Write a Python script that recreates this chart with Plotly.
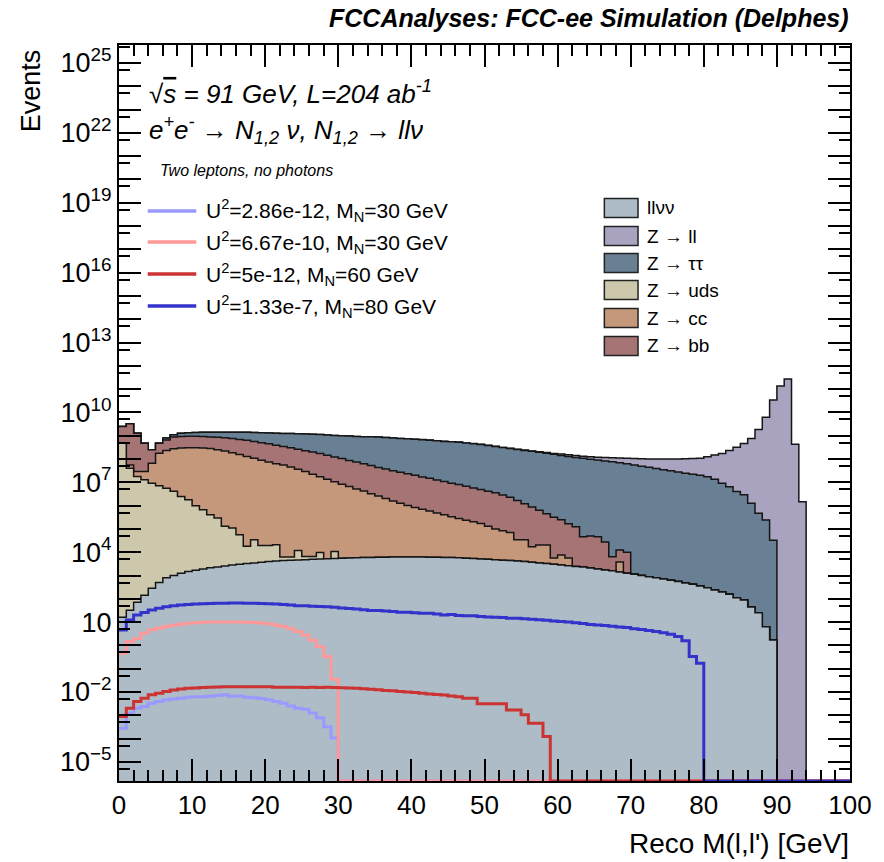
import numpy as np
import plotly.graph_objects as go

# 1 GeV bins of the reconstructed di-lepton mass, 0-100 GeV
edges = np.arange(0, 101, 1)

# ---------------- background processes: events per bin ----------------
llvv = [16, 32, 71, 141, 282, 501, 794, 1000, 1259, 1479,
        1698, 1905, 2138, 2344, 2570, 2818, 3020, 3236, 3467, 3715,
        3981, 4169, 4365, 4571, 4677, 4786, 5012, 5129, 5248, 5370,
        5495, 5623, 5754, 5888, 5888, 6026, 6026, 6166, 6166, 6166,
        6166, 6166, 6026, 6026, 5888, 5888, 5754, 5495, 5370, 5129,
        5012, 4786, 4571, 4365, 4169, 3981, 3715, 3467, 3236, 3020,
        2818, 2630, 2455, 2291, 2089, 1905, 1738, 1585, 1413, 1259,
        1122, 1000, 891, 794, 708, 631, 550, 479, 417, 355,
        295, 240, 195, 158, 112, 89, 45, 25, 6.3, 1.7,
        0, 0, 0, 0, 0, 0, 0, 0, 0, 0]

z_uds = [4.79e8, 3.98e7, 1.78e7, 1.29e7, 9.1e6, 7.1e6, 5.6e6, 4.1e6, 2.45e6, 1.78e6,
         9.8e5, 6.6e5, 4.0e5, 2.9e5, 1.26e5, 1.07e5, 5.3e4, 1.46e4, 3.04e4, 1.58e4,
         1.55e4, 1.67e4, 1800, 1600, 7070, 1820, 1600, 4640, 0, 5350] + [0] * 70

z_cc = [0, 1.6e7, 1.1e7, 1.6e7, 5.7e7, 1.71e8, 2.28e8, 2.71e8, 2.95e8, 3.02e8,
        3.02e8, 2.95e8, 2.82e8, 2.51e8, 2.19e8, 1.86e8, 1.58e8, 1.29e8, 1.07e8, 8.9e7,
        7.4e7, 6.3e7, 5.6e7, 4.5e7, 3.6e7, 2.9e7, 2.24e7, 1.74e7, 1.35e7, 1.05e7,
        8.3e6, 6.6e6, 5.2e6, 4.2e6, 3.2e6, 2.6e6, 2.0e6, 1.58e6, 1.26e6, 1.0e6,
        8.3e5, 6.9e5, 5.8e5, 4.8e5, 4.0e5, 3.3e5, 2.75e5, 2.3e5, 2.0e5, 1.66e5,
        1.26e5, 9.5e4, 7.9e4, 6.6e4, 3.0e4, 3.0e4, 1.33e4, 1.69e4, 1.72e4, 2600,
        4770, 2990, 0, 0, 0, 0, 0, 0, 2390, 0] + [0] * 30

z_bb = [2.03e9, 3.18e9, 1.26e9, 4.5e8, 1.85e8, 3.0e8, 4.27e8, 5.96e8, 6.38e8, 6.53e8,
        6.53e8, 6.38e8, 6.09e8, 6.0e8, 5.94e8, 5.73e8, 5.34e8, 5.02e8, 4.55e8, 4.12e8,
        3.73e8, 3.26e8, 2.91e8, 2.57e8, 2.27e8, 2.0e8, 1.78e8, 1.53e8, 1.32e8, 1.13e8,
        9.7e7, 8.05e7, 6.9e7, 5.9e7, 4.9e7, 4.1e7, 3.5e7, 3.0e7, 2.56e7, 2.24e7,
        1.92e7, 1.63e7, 1.42e7, 1.21e7, 1.03e7, 8.8e6, 7.7e6, 6.5e6, 5.55e6, 4.73e6,
        4.04e6, 3.45e6, 2.74e6, 2.22e6, 1.63e6, 1.17e6, 8.5e5, 6.1e5, 4.27e5, 3.1e5,
        2.37e5, 1.6e5, 1.21e5, 4.34e4, 4.8e4, 4.38e4, 2.58e4, 4725, 8790, 8740] + [0] * 30

z_tautau = [0, 0, 0, 0, 0, 0, 1.33e8, 2.25e8, 3.55e8, 3.94e8,
            4.25e8, 4.8e8, 5.2e8, 5.6e8, 6.0e8, 6.5e8, 7.2e8, 7.8e8, 8.2e8, 8.5e8,
            8.7e8, 9.0e8, 9.1e8, 9.3e8, 9.4e8, 9.5e8, 9.5e8, 9.5e8, 9.3e8, 9.0e8,
            8.95e8, 8.9e8, 8.6e8, 8.5e8, 8.4e8, 8.3e8, 7.95e8, 7.6e8, 7.3e8, 7.2e8,
            6.9e8, 6.6e8, 6.3e8, 5.9e8, 5.6e8, 5.4e8, 5.2e8, 4.8e8, 4.5e8, 4.2e8,
            3.8e8, 3.4e8, 3.06e8, 2.8e8, 2.55e8, 2.33e8, 2.13e8, 1.94e8, 1.77e8, 1.58e8,
            1.41e8, 1.29e8, 1.17e8, 1.07e8, 9.8e7, 9.1e7, 8.3e7, 7.6e7, 6.9e7, 6.2e7,
            5.5e7, 4.9e7, 4.4e7, 3.9e7, 3.5e7, 3.1e7, 2.75e7, 2.45e7, 2.2e7, 2.0e7,
            1.74e7, 1.35e7, 9.1e6, 6.5e6, 4.0e6, 2.9e6, 1.26e6, 4.7e5, 2.4e5, 3.3e4,
            0, 0, 0, 0, 0, 0, 0, 0, 0, 0]

z_ll = [0] * 40 + [
    3e6, 3e6, 3.5e6, 3.5e6, 4e6, 4e6, 4.5e6, 5e6, 5.5e6, 6e6,
    7e6, 7e6, 7e6, 7e6, 8e6, 8e6, 9e6, 1.0e7, 1.3e7, 1.6e7,
    2.1e7, 2.2e7, 2.4e7, 2.5e7, 2.8e7, 2.9e7, 3.2e7, 3.6e7, 4.1e7, 4.5e7,
    5.0e7, 5.3e7, 5.6e7, 6.1e7, 6.5e7, 6.9e7, 7.25e7, 7.8e7, 8.3e7, 8.7e7,
    1.09e8, 1.34e8, 1.65e8, 2.23e8, 3.12e8, 4.65e8, 7.64e8, 1.86e9, 6.17e9, 3.39e10,
    1.35e11, 2.69e11, 4.27e8, 1.48e6, 0, 0, 0, 0, 0, 0]

# stacking order (bottom -> top) and legend order
stack_order = ["llvv", "Z_uds", "Z_cc", "Z_bb", "Z_tautau", "Z_ll"]
bkg = {"llvv": llvv, "Z_ll": z_ll, "Z_tautau": z_tautau,
       "Z_uds": z_uds, "Z_cc": z_cc, "Z_bb": z_bb}
bkg_colors = {"llvv": "#adbcc6", "Z_ll": "#a9a3bf", "Z_tautau": "#687f94",
              "Z_uds": "#cdc8ac", "Z_cc": "#c6987b", "Z_bb": "#a67475"}
legend_bkg = ["llvv", "Z_ll", "Z_tautau", "Z_uds", "Z_cc", "Z_bb"]
legend_bkg_text = ["llνν", "Z → ll", "Z → ττ", "Z → uds", "Z → cc", "Z → bb"]

# ---------------- HNL signal samples: events per bin ----------------
sig_m30_u2e12 = [0.00028, 0.00123, 0.0020, 0.0024, 0.0033, 0.0039, 0.0046, 0.0050, 0.0054, 0.0060,
                 0.0063, 0.0063, 0.0066, 0.0071, 0.0076, 0.0066, 0.0068, 0.0060, 0.0056, 0.0052,
                 0.0046, 0.0039, 0.0033, 0.0025, 0.0020, 0.0018, 0.00126, 0.00079, 0.00032, 0.000105] + [0] * 70

sig_m30_u2e10 = [0.46, 1.48, 2.0, 3.3, 4.7, 5.5, 6.5, 7.4, 8.1, 8.9,
                 9.3, 9.8, 10.0, 10.2, 10.2, 10.2, 10.0, 9.8, 9.5, 9.1,
                 8.5, 7.6, 6.5, 5.2, 4.0, 2.8, 1.66, 0.89, 0.33, 0.035] + [0] * 70

sig_m60_u2e12 = [0.00089, 0.0020, 0.0039, 0.0054, 0.0076, 0.0089, 0.0105, 0.0123, 0.0135, 0.0145,
                 0.0148, 0.0155, 0.0158, 0.0162, 0.0166, 0.0168, 0.0166, 0.0168, 0.0166, 0.0166,
                 0.0166, 0.0160, 0.0158, 0.0160, 0.0158, 0.0156, 0.0158, 0.0155, 0.0158, 0.0155,
                 0.0151, 0.0148, 0.0145, 0.0138, 0.0132, 0.0126, 0.0117, 0.0112, 0.0105, 0.0100,
                 0.0095, 0.0089, 0.0083, 0.0079, 0.0074, 0.0068, 0.0063, 0.0054, 0.0054, 0.0031,
                 0.0031, 0.0031, 0.0031, 0.0017, 0.0017, 0.00105, 0.00046, 0.00046, 0.000123] + [0] * 41

sig_m80_u2e7 = [4.6, 12.3, 20.4, 25.7, 33.1, 39.8, 45.7, 50.1, 53.7, 57.5,
                60.3, 61.7, 63.1, 64.6, 64.6, 66.1, 66.1, 64.6, 64.6, 63.1,
                61.7, 60.3, 57.5, 53.7, 50.1, 50.1, 47.9, 46.8, 45.7, 43.7,
                40.7, 38.0, 36.3, 33.9, 31.6, 31.6, 30.2, 28.2, 26.3, 26.3,
                25.1, 24.0, 24.0, 22.4, 20.0, 21.4, 19.1, 18.6, 18.6, 17.4,
                16.6, 16.2, 15.8, 14.8, 14.5, 13.8, 13.2, 12.6, 12.0, 11.2,
                10.5, 10.0, 9.3, 8.7, 7.9, 7.6, 7.1, 6.6, 6.2, 5.8,
                5.2, 4.8, 4.4, 4.0, 3.5, 3.0, 2.4, 1.6, 0.33, 0.17] + [0] * 20

signals = [sig_m30_u2e12, sig_m30_u2e10, sig_m60_u2e12, sig_m80_u2e7]
sig_colors = ["#9999ff", "#ff9999", "#cc3333", "#3333cc"]
sig_labels = ["U<sup>2</sup>=2.86e-12, M<sub>N</sub>=30 GeV",
              "U<sup>2</sup>=6.67e-10, M<sub>N</sub>=30 GeV",
              "U<sup>2</sup>=5e-12, M<sub>N</sub>=60 GeV",
              "U<sup>2</sup>=1.33e-7, M<sub>N</sub>=80 GeV"]

# ---------------- axis setup ----------------
Y_LOG_MIN, Y_LOG_MAX = -5.82, 25.77
labelled_exp = [-5, -2, 1, 4, 7, 10, 13, 16, 19, 22, 25]
FONT = "Liberation Sans, Arial, Helvetica, sans-serif"

W, H = 884, 862
L, R, T, B = 119, 857, 45, 781


def px2x(px):
    return (px - L) / (R - L)


def py2y(py):
    return (B - py) / (B - T)


fig = go.Figure()

# stacked backgrounds: draw cumulative totals from the top of the stack down
FLOOR = 1e-12
cum = np.cumsum(np.array([bkg[k] for k in stack_order], dtype=float), axis=0)
for i in reversed(range(len(stack_order))):
    level = np.where(cum[i] > 0, cum[i], FLOOR)
    yv = np.append(level, level[-1])
    fig.add_trace(go.Scatter(x=edges, y=np.full(edges.size, FLOOR), mode="lines",
                             line=dict(width=0), hoverinfo="skip", showlegend=False))
    fig.add_trace(go.Scatter(x=edges, y=yv, mode="lines",
                             line=dict(color="#151515", width=1.5, shape="hv"),
                             fill="tonexty", fillcolor=bkg_colors[stack_order[i]],
                             name=stack_order[i], showlegend=False))

# signal histograms; empty bins sit on the lower edge of the frame
for vals, col in zip(signals, sig_colors):
    v = np.array(vals, dtype=float)
    v = np.where(v > 0, v, 10 ** Y_LOG_MIN)
    fig.add_trace(go.Scatter(x=edges, y=np.append(v, v[-1]), mode="lines",
                             line=dict(color=col, width=3, shape="hv"), showlegend=False))

ytickvals = [10.0 ** e for e in range(-5, 26)]
yticktext = []
for e in range(-5, 26):
    if e in labelled_exp:
        if e == 1:
            yticktext.append("10")
        else:
            yticktext.append("10<sup>%s</sup>" % (str(e).replace("-", "−")))
    else:
        yticktext.append("")

fig.update_layout(
    width=W, height=H,
    margin=dict(l=L, r=W - R, t=T, b=H - B, pad=0),
    paper_bgcolor="white", plot_bgcolor="white",
    font=dict(family=FONT, color="black"),
    showlegend=False,
    xaxis=dict(range=[0, 100], tickvals=list(range(0, 101, 10)),
               ticks="inside", ticklen=22, tickwidth=1.5, tickcolor="black",
               minor=dict(dtick=2, ticks="inside", ticklen=11, tickwidth=1.5, tickcolor="black"),
               mirror="allticks", showline=True, linecolor="black", linewidth=2,
               showgrid=False, zeroline=False, tickfont=dict(size=26, family=FONT)),
    yaxis=dict(type="log", range=[Y_LOG_MIN, Y_LOG_MAX],
               tickmode="array", tickvals=ytickvals, ticktext=yticktext,
               ticks="inside", ticklen=22, tickwidth=1.5, tickcolor="black",
               minor=dict(tickmode="array",
                          tickvals=[5 * 10.0 ** e for e in range(-6, 26)],
                          ticks="inside", ticklen=11, tickwidth=1.5, tickcolor="black"),
               mirror="allticks", showline=True, linecolor="black", linewidth=2,
               showgrid=False, zeroline=False, tickfont=dict(size=27, family=FONT)),
)

ann = []
shapes = []

# header
ann.append(dict(text="<b><i>FCCAnalyses: FCC-ee Simulation (Delphes)</i></b>",
                x=px2x(858), y=py2y(18), xanchor="right", yanchor="middle",
                font=dict(size=25)))
# axis titles
ann.append(dict(text="Reco M(l,l') [GeV]", x=px2x(858), y=py2y(843),
                xanchor="right", yanchor="middle", font=dict(size=28)))
ann.append(dict(text="Events", x=px2x(31), y=py2y(47), textangle=-90,
                xanchor="center", yanchor="top", font=dict(size=27)))
# process description
ann.append(dict(text="<i>√<span style='text-decoration:overline'>s</span> = 91 GeV, L=204 ab<sup>-1</sup></i>",
                x=px2x(147), y=py2y(92), xanchor="left", yanchor="middle", font=dict(size=26)))
ann.append(dict(text="<i>e<sup>+</sup>e<sup>-</sup> → N<sub>1,2</sub> ν, N<sub>1,2</sub> → llν</i>",
                x=px2x(147), y=py2y(130), xanchor="left", yanchor="middle", font=dict(size=26)))
ann.append(dict(text="<i>Two leptons, no photons</i>",
                x=px2x(158), y=py2y(170), xanchor="left", yanchor="middle", font=dict(size=16)))

# signal legend
sig_rows = [211, 242, 274, 306]
for yrow, col, lab in zip(sig_rows, sig_colors, sig_labels):
    shapes.append(dict(type="line", xref="paper", yref="paper",
                       x0=px2x(148), x1=px2x(197), y0=py2y(yrow), y1=py2y(yrow),
                       line=dict(color=col, width=3.5)))
    ann.append(dict(text=lab, x=px2x(205), y=py2y(yrow), xanchor="left", yanchor="middle",
                    font=dict(size=21)))

# background legend
bkg_rows = [208, 236, 263, 290, 318, 346]
for yrow, key, lab in zip(bkg_rows, legend_bkg, legend_bkg_text):
    shapes.append(dict(type="rect", xref="paper", yref="paper",
                       x0=px2x(609), x1=px2x(643), y0=py2y(yrow + 9.5), y1=py2y(yrow - 9.5),
                       fillcolor=bkg_colors[key], line=dict(color="#222", width=1.5)))
    ann.append(dict(text=lab, x=px2x(650), y=py2y(yrow), xanchor="left", yanchor="middle",
                    font=dict(size=19)))

for a in ann:
    a.update(xref="paper", yref="paper", showarrow=False)
fig.update_layout(annotations=ann, shapes=shapes)

fig.write_html("out.html")
